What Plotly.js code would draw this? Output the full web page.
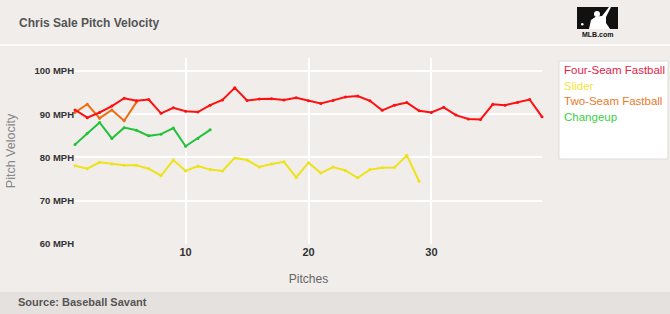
<!DOCTYPE html>
<html><head><meta charset="utf-8">
<script src="https://cdn.plot.ly/plotly-3.0.1.min.js"></script>
<style>html,body{margin:0;padding:0;background:#f0edea;}#chart{width:670px;height:314px;}</style>
</head><body><div id="chart"></div>
<script>
const fourSeamX = [1,2,3,4,5,6,7,8,9,10,11,12,13,14,15,16,17,18,19,20,21,22,23,24,25,26,27,28,29,30,31,32,33,34,35,36,37,38,39];
const fourSeam = [91.0,89.2,90.4,91.9,93.7,93.1,93.4,90.2,91.5,90.7,90.5,92.1,93.3,96.1,93.2,93.5,93.6,93.3,93.8,93.1,92.5,93.2,94.0,94.2,93.1,90.9,92.1,92.7,90.8,90.4,91.6,89.8,88.9,88.8,92.3,92.1,92.7,93.4,89.4];
const sliderX = [1,2,3,4,5,6,7,8,9,10,11,12,13,14,15,16,17,18,19,20,21,22,23,24,25,26,27,28,29];
const slider = [78.1,77.4,78.9,78.5,78.2,78.2,77.4,75.8,79.4,76.9,78.0,77.2,76.9,79.9,79.4,77.8,78.5,79.0,75.4,78.8,76.4,77.8,77.0,75.3,77.2,77.6,77.7,80.5,74.5];
const twoSeamX = [1,2,3,4,5,6];
const twoSeam = [90.4,92.3,89.1,91.0,88.5,92.8];
const changeupX = [1,2,3,4,5,6,7,8,9,10,11,12];
const changeup = [83.0,85.6,88.1,84.4,86.9,86.3,85.0,85.4,86.8,82.6,84.4,86.4];
const seriesNames = ["Four-Seam Fastball","Slider","Two-Seam Fastball","Changeup"];
const yTicks = [60,70,80,90,100];
const yTickText = ["60 MPH","70 MPH","80 MPH","90 MPH","100 MPH"];
const xTicks = [10,20,30];

const lineColors = ["#ff1010","#eee21a","#ea6e12","#22c33a"];
const legendColors = ["#e3234a","#f2e63a","#ea7a2a","#3ad048"];
const xs = [fourSeamX, sliderX, twoSeamX, changeupX];
const ys = [fourSeam, slider, twoSeam, changeup];
const order = [1,3,2,0];
const traces = order.map(i => ({
  x: xs[i], y: ys[i], name: seriesNames[i], type: 'scatter', mode: 'lines+markers',
  line: {color: lineColors[i], width: 2}, marker: {color: lineColors[i], size: 3},
  showlegend: false, hoverinfo: 'skip', cliponaxis: false
}));

const L = 75, B = 70, PW = 467, PH = 186;
const px = v => (v - L) / PW;
const py = v => (314 - B - v) / PH;
const font = "Liberation Sans, Arial, sans-serif";
const annotations = [
  {text: "<b>Chris Sale Pitch Velocity</b>", xref:'paper', yref:'paper', x: px(17), y: py(23), xanchor:'left', yanchor:'middle', showarrow:false, font:{family:font,size:12,color:'#555'}},
  {text: "<b>Source: Baseball Savant</b>", xref:'paper', yref:'paper', x: px(16), y: py(302), xanchor:'left', yanchor:'middle', showarrow:false, font:{family:font,size:11,color:'#555'}},
  {text: "<b>MLB.com</b>", xref:'paper', yref:'paper', x: px(598), y: py(34.5), xanchor:'center', yanchor:'middle', showarrow:false, font:{family:font,size:7,color:'#111'}}
];
seriesNames.forEach((n,i) => annotations.push({
  text: n, xref:'paper', yref:'paper', x: px(562), y: py(70+15.5*i),
  xanchor:'left', yanchor:'middle', showarrow:false, font:{family:font,size:11.5,color:legendColors[i]}
}));

function P(pts){ return 'M' + pts.map(p => px(p[0]) + ',' + py(p[1])).join(' L') + ' Z'; }
const shapes = [
  {type:'rect', xref:'paper', yref:'paper', x0:-1, x1:2, y0:py(292), y1:py(320), fillcolor:'#e5e1de', line:{width:0}, layer:'below'},
  {type:'line', xref:'paper', yref:'paper', x0:-1, x1:2, y0:py(45), y1:py(45), line:{color:'#fbfaf9', width:2}, layer:'below'},
  {type:'rect', xref:'paper', yref:'paper', x0:px(559), x1:px(668), y0:py(159), y1:py(61), fillcolor:'#ffffff', line:{color:'#dddddd', width:1}},
  {type:'rect', xref:'paper', yref:'paper', x0:px(577), x1:px(618), y0:py(29), y1:py(7), fillcolor:'#111111', line:{width:0}},
  {type:'circle', xref:'paper', yref:'paper', x0:px(581), x1:px(583.5), y0:py(25.5), y1:py(23), fillcolor:'#ffffff', line:{width:0}},
  {type:'circle', xref:'paper', yref:'paper', x0:px(594), x1:px(600), y0:py(17), y1:py(11), fillcolor:'#ffffff', line:{width:0}},
  {type:'path', xref:'paper', yref:'paper', path:P([[589,29],[591,20],[596,16.5],[602,16],[606,11],[609,7],[611,7],[606,17],[606,23],[610,29]]), fillcolor:'#ffffff', line:{width:0}}
];

const layout = {
  width: 670, height: 314,
  margin: {l:L, r:670-L-PW, t:314-B-PH, b:B},
  paper_bgcolor: '#f0edea', plot_bgcolor: '#f0edea',
  font: {family: font},
  xaxis: {range:[1,39], tickvals:xTicks, ticktext:xTicks.map(String), showgrid:true, gridcolor:'#ffffff', gridwidth:2, zeroline:false, showline:false, ticks:'',
    tickfont:{family:font,size:11,color:'#333',weight:'bold'},
    title:{text:'Pitches', font:{family:font,size:12,color:'#666'}, standoff:17}},
  yaxis: {range:[60,103], tickvals:yTicks, ticktext:yTickText, showgrid:true, gridcolor:'#ffffff', gridwidth:2, zeroline:false, showline:false, ticks:'',
    tickfont:{family:font,size:9.5,color:'#333',weight:'bold'},
    title:{text:'Pitch Velocity', font:{family:font,size:12.5,color:'#888'}, standoff:16}},
  annotations: annotations,
  shapes: shapes,
  showlegend: false
};
Plotly.newPlot('chart', traces, layout, {displayModeBar:false, staticPlot:true});
</script></body></html>
